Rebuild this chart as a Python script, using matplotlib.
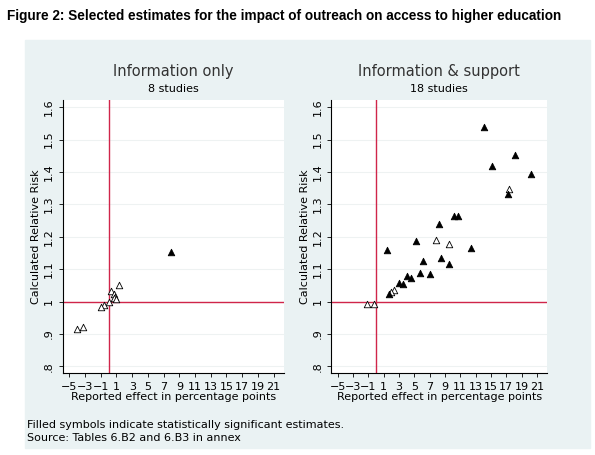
import matplotlib.pyplot as plt
from matplotlib.patches import Rectangle

# Information only
info_x = [7.96, 1.3, 0.28, 0.7, 0.83, 0.7, 1.0, 0.0, -0.55, -1.0, -3.2, -4.0]
info_y = [1.152, 1.051, 1.033, 1.022, 1.013, 1.010, 1.008, 1.0, 0.99, 0.983, 0.921, 0.916]
info_sig = [1, 0, 0, 0, 0, 0, 0, 0, 0, 0, 0, 0]

# Information & support
supp_x = [14.1, 18.1, 15.1, 20.3, 17.4, 17.2, 10.2, 10.7, 8.2, 7.9, 5.3, 9.5, 12.4, 1.5,
          8.5, 6.2, 9.6, 5.8, 7.1, 4.1, 4.6, 3.0, 3.6, 2.4, 2.0, 1.7, -1.1, -0.3]
supp_y = [1.54, 1.452, 1.419, 1.393, 1.347, 1.332, 1.265, 1.265, 1.239, 1.19, 1.187, 1.177,
          1.165, 1.16, 1.135, 1.126, 1.115, 1.088, 1.086, 1.08, 1.072, 1.058, 1.055, 1.035,
          1.03, 1.022, 0.991, 0.991]
supp_sig = [1, 1, 1, 1, 0, 1, 1, 1, 1, 0, 1, 0, 1, 1, 1, 1, 1, 1, 1, 1, 1, 1, 1, 0, 0, 1, 0, 0]

x_ticks = list(range(-5, 22, 2))
y_ticks = [0.8, 0.9, 1.0, 1.1, 1.2, 1.3, 1.4, 1.5, 1.6]
y_labels = ['.8', '.9', '1', '1.1', '1.2', '1.3', '1.4', '1.5', '1.6']

fig = plt.figure(figsize=(5.95, 4.55), dpi=100)
bg = '#eaf2f3'
fig.add_artist(Rectangle((25 / 595, 1 - 448 / 455), 565 / 595, 408 / 455,
                         transform=fig.transFigure, color=bg, zorder=-10))
fig.text(0.012, 0.955, 'Figure 2: Selected estimates for the impact of outreach on access to higher education',
         fontsize=9.8, fontweight='bold', family='Liberation Sans')

panels = [
    ([0.106, 0.180, 0.371, 0.600], info_x, info_y, info_sig, 'Information only', '8 studies'),
    ([0.557, 0.180, 0.362, 0.600], supp_x, supp_y, supp_sig, 'Information & support', '18 studies'),
]
for pos, xs, ys, sig, title, sub in panels:
    ax = fig.add_axes(pos)
    ax.set_zorder(1)
    ax.set_xlim(-5.8, 22.3)
    ax.set_ylim(0.779, 1.622)
    for y in y_ticks:
        ax.axhline(y, color='#eef2f2', lw=0.8, zorder=0)
    ax.axhline(1, color='#d0254a', lw=1, zorder=1)
    ax.axvline(0, color='#d0254a', lw=1, zorder=1)
    for x, y, s in zip(xs, ys, sig):
        ax.scatter(x, y, marker='^', s=22, facecolor='black' if s else 'white',
                   edgecolor='black', linewidth=0.6, zorder=3)
    ax.set_xticks(x_ticks)
    ax.set_yticks(y_ticks)
    ax.set_yticklabels(y_labels, rotation=90, va='center')
    ax.tick_params(labelsize=8, length=3, width=0.6)
    for sp in ['top', 'right']:
        ax.spines[sp].set_visible(False)
    ax.set_xlabel('Reported effect in percentage points', fontsize=8, labelpad=0)
    ax.set_ylabel('Calculated Relative Risk', fontsize=8, labelpad=2)
    ax.text(0.5, 1.09, title, transform=ax.transAxes, ha='center', fontsize=10.5, color='#333333')
    ax.text(0.5, 1.03, sub, transform=ax.transAxes, ha='center', fontsize=8)

fig.text(0.045, 1 - 428 / 455, 'Filled symbols indicate statistically significant estimates.', fontsize=8)
fig.text(0.045, 1 - 441 / 455, 'Source: Tables 6.B2 and 6.B3 in annex', fontsize=8)

fig.savefig('out.png', dpi=100)
